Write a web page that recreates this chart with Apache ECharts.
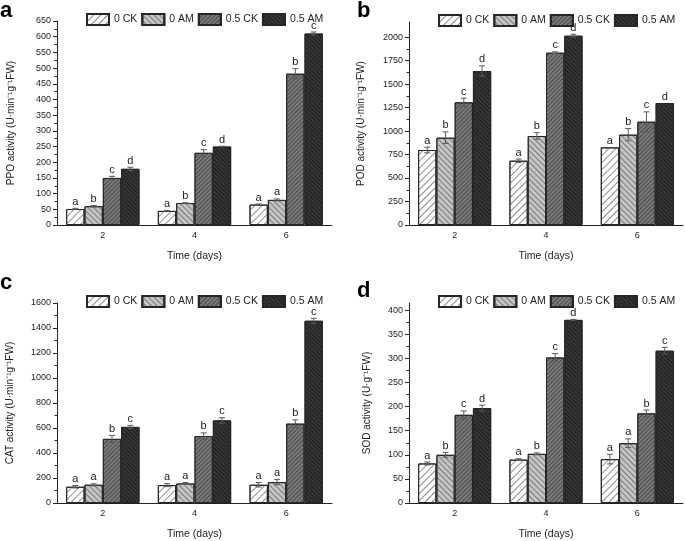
<!DOCTYPE html>
<html>
<head>
<meta charset="utf-8">
<script src="https://cdn.jsdelivr.net/npm/echarts@6/dist/echarts.min.js"></script>
<style>
html, body { margin: 0; padding: 0; background: #fff; }
#main { width: 685px; height: 541px; }
</style>
</head>
<body>
<div id="main"></div>
<script>
var days = ['2', '4', '6'];
var groups = ['0 CK', '0 AM', '0.5 CK', '0.5 AM'];

// a: PPO
var ppoMean = [[51, 45, 65], [60, 70, 80], [150, 230, 482], [179, 250, 610]];
var ppoErr = [[2, 1, 2], [2, 1, 3], [5, 10, 16], [5, 1, 5]];
var ppoSig = [['a', 'a', 'a'], ['b', 'b', 'a'], ['c', 'c', 'b'], ['d', 'd', 'c']];
var ppoTicks = [0, 50, 100, 150, 200, 250, 300, 350, 400, 450, 500, 550, 600, 650];

// b: POD
var podMean = [[798, 684, 826], [929, 947, 961], [1305, 1833, 1099], [1638, 2014, 1298]];
var podErr = [[30, 18, 0], [62, 35, 65], [45, 10, 105], [55, 15, 0]];
var podSig = [['a', 'a', 'a'], ['b', 'b', 'b'], ['c', 'c', 'c'], ['d', 'd', 'd']];
var podTicks = [0, 250, 500, 750, 1000, 1250, 1500, 1750, 2000];

// c: CAT
var catMean = [[130, 143, 146], [146, 156, 167], [513, 536, 635], [609, 661, 1458]];
var catErr = [[10, 12, 18], [8, 8, 20], [28, 25, 30], [12, 22, 20]];
var catSig = [['a', 'a', 'a'], ['a', 'a', 'a'], ['b', 'b', 'b'], ['c', 'c', 'c']];
var catTicks = [0, 200, 400, 600, 800, 1000, 1200, 1400, 1600];

// d: SOD
var sodMean = [[82, 90, 91], [100, 102, 124], [183, 302, 186], [197, 380, 316]];
var sodErr = [[3, 2, 10], [5, 2, 9], [8, 8, 7], [6, 1, 7]];
var sodSig = [['a', 'a', 'a'], ['b', 'b', 'a'], ['c', 'c', 'b'], ['d', 'd', 'c']];
var sodTicks = [0, 50, 100, 150, 200, 250, 300, 350, 400];

var panels = [
	{ letter: 'a', name: 'PPO activity (U·min⁻¹g⁻¹FW)', mean: ppoMean, err: ppoErr, sig: ppoSig, ticks: ppoTicks, max: 650,
	  grid: { left: 57, top: 21, width: 275, height: 204 }, legend: { left: 81, top: 8 }, letterPos: [0, 23], nameGap: 41 },
	{ letter: 'b', name: 'POD activity (U·min⁻¹g⁻¹FW)', mean: podMean, err: podErr, sig: podSig, ticks: podTicks, max: 2160,
	  grid: { left: 409, top: 22, width: 274, height: 203 }, legend: { left: 433, top: 9 }, letterPos: [357, 23], nameGap: 43 },
	{ letter: 'c', name: 'CAT activity (U·min⁻¹g⁻¹FW)', mean: catMean, err: catErr, sig: catSig, ticks: catTicks, max: 1600,
	  grid: { left: 57, top: 303, width: 275, height: 205 }, legend: { left: 81, top: 290 }, letterPos: [0, 295], nameGap: 42 },
	{ letter: 'd', name: 'SOD activity (U·g⁻¹FW)', mean: sodMean, err: sodErr, sig: sodSig, ticks: sodTicks, max: 415,
	  grid: { left: 409, top: 303, width: 274, height: 205 }, legend: { left: 433, top: 290 }, letterPos: [357, 303], nameGap: 37 }
];

var barStyles = [
	{ color: '#ffffff', decal: { symbol: 'rect', color: '#8c8c8c', dashArrayX: [1, 0], dashArrayY: [1, 3.5], rotation: -Math.PI / 4 } },
	{ color: '#c4c4c4', decal: { symbol: 'rect', color: '#7a7a7a', dashArrayX: [1, 0], dashArrayY: [1, 2.5], rotation: Math.PI / 4 } },
	{ color: '#7a7a7a', decal: { symbol: 'rect', color: '#4a4a4a', dashArrayX: [1, 0], dashArrayY: [1, 2], rotation: -Math.PI / 4 } },
	{ color: '#363636', decal: { symbol: 'rect', color: '#1e1e1e', dashArrayX: [1, 0], dashArrayY: [1, 2], rotation: Math.PI / 4 } }
];

var font = 'Liberation Sans, Arial, sans-serif';
var ink = '#222';

var grids = [], xAxes = [], yAxes = [], legends = [], series = [], graphics = [];

panels.forEach(function(p, g) {
	grids.push(p.grid);
	var minors = [];
	for (var t = 0; t < p.ticks.length - 1; t++) {
		minors.push((p.ticks[t] + p.ticks[t + 1]) / 2);
	}
	xAxes.push({
		type: 'category', gridIndex: g, data: days, position: 'bottom',
		name: 'Time (days)', nameLocation: 'middle', nameGap: 26,
		nameTextStyle: { fontSize: 10.5, color: ink, fontFamily: font },
		axisLine: { lineStyle: { color: ink, width: 1 } },
		axisTick: { alignWithLabel: true, length: 4, lineStyle: { color: ink } },
		axisLabel: { fontSize: 9, color: ink, margin: 6, fontFamily: font }
	});
	xAxes.push({
		type: 'category', gridIndex: g, data: days, position: 'bottom',
		axisLine: { show: false },
		axisTick: { alignWithLabel: false, length: 3, lineStyle: { color: ink } },
		axisLabel: { show: false }
	});
	yAxes.push({
		type: 'value', gridIndex: g, position: 'left', min: 0, max: p.max,
		name: p.name, nameLocation: 'middle', nameGap: p.nameGap, nameRotate: 90,
		nameTextStyle: { fontSize: 10, color: ink, fontFamily: font },
		axisLine: { show: true, lineStyle: { color: ink, width: 1 } },
		axisTick: { show: true, length: 4, customValues: p.ticks, lineStyle: { color: ink } },
		axisLabel: {
			fontSize: 9, color: ink, margin: 6, customValues: p.ticks, fontFamily: font,
			formatter: function(v) { return String(v); }
		},
		splitLine: { show: false }
	});
	yAxes.push({
		type: 'value', gridIndex: g, position: 'left', min: 0, max: p.max,
		axisLine: { show: false },
		axisTick: { show: true, length: 2.5, customValues: minors, lineStyle: { color: ink } },
		axisLabel: { show: false },
		splitLine: { show: false }
	});
	legends.push({
		data: groups, left: p.legend.left, top: p.legend.top,
		icon: 'rect', itemWidth: 22, itemHeight: 11, itemGap: 4,
		textStyle: { fontSize: 10.5, color: ink, fontFamily: font },
		selectedMode: false
	});
	graphics.push({
		type: 'text', left: p.letterPos[0], top: p.letterPos[1] - 23,
		style: { text: p.letter, font: 'bold 22px ' + font, fill: '#000' }
	});

	groups.forEach(function(name, i) {
		series.push({
			name: name, type: 'bar', xAxisIndex: g * 2, yAxisIndex: g * 2,
			barGap: '0%', barCategoryGap: '20%',
			itemStyle: { color: barStyles[i].color, decal: barStyles[i].decal, borderColor: '#262626', borderWidth: 1 },
			data: p.mean[i]
		});
	});
	groups.forEach(function(name, i) {
		series.push({
			name: 'err' + g + '_' + i, type: 'custom', xAxisIndex: g * 2, yAxisIndex: g * 2,
			z: 5, clip: false,
			data: days.map(function(d, k) { return [k, p.mean[i][k], p.err[i][k]]; }),
			renderItem: function(params, api) {
				var k = api.value(0), m = api.value(1), e = api.value(2);
				var bw = api.size([1, 0])[0];
				var off = (-0.3 + 0.2 * i) * bw;
				var top = api.coord([k, m + e]);
				var bot = api.coord([k, m - e]);
				var cx = top[0] + off;
				var cap = 3;
				var children = [];
				var lineStyle = { stroke: '#5a5a5a', lineWidth: 1 };
				if (e > 0) {
					children.push({ type: 'line', shape: { x1: cx, y1: top[1], x2: cx, y2: bot[1] }, style: lineStyle });
					children.push({ type: 'line', shape: { x1: cx - cap, y1: top[1], x2: cx + cap, y2: top[1] }, style: lineStyle });
					children.push({ type: 'line', shape: { x1: cx - cap, y1: bot[1], x2: cx + cap, y2: bot[1] }, style: lineStyle });
				}
				children.push({
					type: 'text',
					style: {
						text: p.sig[i][params.dataIndex], x: cx, y: top[1] - 1,
						textAlign: 'center', textVerticalAlign: 'bottom',
						fontSize: 11, fontFamily: font, fill: ink
					}
				});
				return { type: 'group', children: children };
			}
		});
	});
});

var myChart = echarts.init(document.getElementById('main'));
var option = {
	animation: false,
	backgroundColor: '#ffffff',
	grid: grids,
	xAxis: xAxes,
	yAxis: yAxes,
	legend: legends,
	graphic: graphics,
	series: series
};
myChart.setOption(option);
</script>
</body>
</html>
